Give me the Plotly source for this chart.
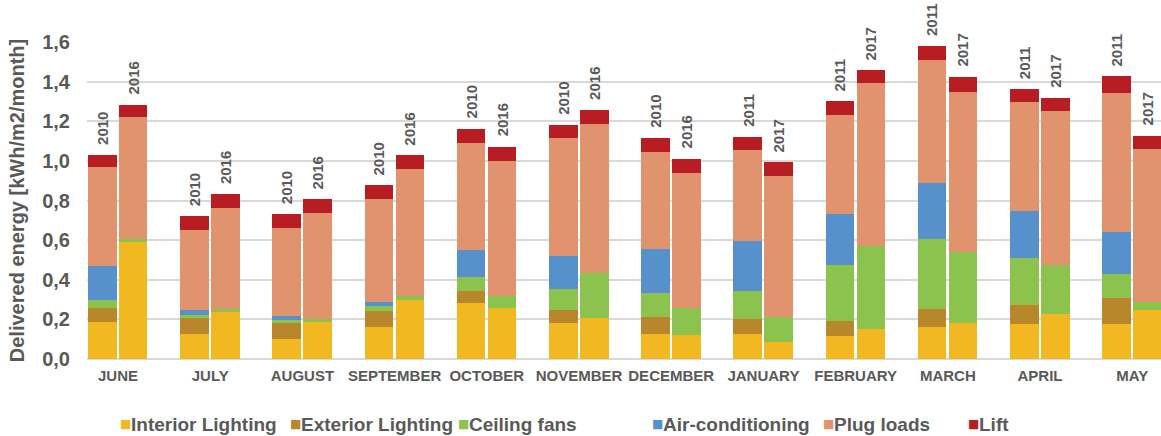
import plotly.graph_objects as go

# Monthly delivered energy by end use [kWh/m2/month], two monitoring years per month
months = ["JUNE", "JULY", "AUGUST", "SEPTEMBER", "OCTOBER", "NOVEMBER",
          "DECEMBER", "JANUARY", "FEBRUARY", "MARCH", "APRIL", "MAY"]
years_a = ["2010", "2010", "2010", "2010", "2010", "2010",
           "2010", "2011", "2011", "2011", "2011", "2011"]
years_b = ["2016", "2016", "2016", "2016", "2016", "2016",
           "2016", "2017", "2017", "2017", "2017", "2017"]

# First year of each pair
interior_a = [0.185, 0.126, 0.099, 0.160, 0.283, 0.183, 0.124, 0.124, 0.114, 0.160, 0.175, 0.178]
exterior_a = [0.072, 0.081, 0.083, 0.080, 0.062, 0.066, 0.090, 0.078, 0.078, 0.094, 0.099, 0.128]
fans_a     = [0.042, 0.017, 0.013, 0.029, 0.069, 0.104, 0.119, 0.143, 0.284, 0.351, 0.234, 0.125]
aircon_a   = [0.172, 0.023, 0.020, 0.020, 0.136, 0.168, 0.222, 0.252, 0.257, 0.285, 0.237, 0.211]
plug_a     = [0.496, 0.406, 0.448, 0.520, 0.541, 0.592, 0.488, 0.456, 0.498, 0.619, 0.550, 0.702]
lift_a     = [0.062, 0.068, 0.069, 0.069, 0.071, 0.068, 0.074, 0.070, 0.071, 0.069, 0.066, 0.082]

# Second year of each pair
interior_b = [0.590, 0.237, 0.188, 0.296, 0.256, 0.207, 0.123, 0.084, 0.153, 0.183, 0.225, 0.249]
exterior_b = [0.000, 0.000, 0.000, 0.000, 0.000, 0.000, 0.000, 0.000, 0.000, 0.000, 0.000, 0.000]
fans_b     = [0.015, 0.017, 0.014, 0.024, 0.064, 0.227, 0.133, 0.126, 0.417, 0.355, 0.251, 0.039]
aircon_b   = [0.000, 0.000, 0.000, 0.000, 0.000, 0.000, 0.000, 0.000, 0.000, 0.000, 0.000, 0.000]
plug_b     = [0.614, 0.508, 0.535, 0.640, 0.681, 0.752, 0.681, 0.712, 0.824, 0.812, 0.774, 0.772]
lift_b     = [0.064, 0.070, 0.069, 0.068, 0.070, 0.070, 0.075, 0.070, 0.064, 0.073, 0.067, 0.068]

series = [
    ("Interior Lighting", "#F2B822", interior_a, interior_b),
    ("Exterior Lighting", "#B8872C", exterior_a, exterior_b),
    ("Ceiling fans", "#8CC34F", fans_a, fans_b),
    ("Air-conditioning", "#5691CB", aircon_a, aircon_b),
    ("Plug loads", "#E0936C", plug_a, plug_b),
    ("Lift", "#B81D23", lift_a, lift_b),
]

idx = list(range(len(months)))
OFF_A, OFF_B, BAR_W = -0.17, 0.165, 0.31
x_a = [i + OFF_A for i in idx]
x_b = [i + OFF_B for i in idx]

GREY = "#595959"
FONT = "Liberation Sans, Arial, sans-serif"
W, H = 1161, 436
ML, MR, MT, MB = 87, 0, 42, 77
PW, PH = W - ML - MR, H - MT - MB

fig = go.Figure()
for name, color, va, vb in series:
    fig.add_trace(go.Bar(x=x_a, y=va, width=BAR_W, name=name, legendgroup=name,
                         showlegend=False, marker=dict(color=color, line=dict(width=0))))
    fig.add_trace(go.Bar(x=x_b, y=vb, width=BAR_W, name=name, legendgroup=name,
                         showlegend=False, marker=dict(color=color, line=dict(width=0))))

# Year labels above each stacked bar
tot_a = [sum(s[2][i] for s in series) for i in idx]
tot_b = [sum(s[3][i] for s in series) for i in idx]
for xs, tots, yrs in ((x_a, tot_a, years_a), (x_b, tot_b, years_b)):
    for x, t, yr in zip(xs, tots, yrs):
        fig.add_annotation(x=x, y=t, text="<b>%s</b>" % yr, textangle=-90,
                           showarrow=False, xanchor="center", yanchor="bottom",
                           yshift=8, font=dict(family=FONT, size=15, color=GREY))

# Legend row below the month names: colour square, then the series name
legend_square_px = [120, 290, 458, 652, 823, 968]
legend_y = (MT + PH - 424) / PH
for (name, color, _, _), px in zip(series, legend_square_px):
    fig.add_annotation(xref="paper", yref="paper", x=(px - 2 - ML) / PW, y=legend_y,
                       xanchor="left", yanchor="middle", showarrow=False,
                       text="■", font=dict(family="DejaVu Sans", size=12, color=color))
    fig.add_annotation(xref="paper", yref="paper", x=(px + 9 - ML) / PW, y=legend_y,
                       xanchor="left", yanchor="middle", showarrow=False,
                       text="<b>%s</b>" % name,
                       font=dict(family=FONT, size=19, color=GREY))

fig.update_layout(
    width=W, height=H,
    barmode="stack",
    bargap=0,
    separators=",.",
    plot_bgcolor="white", paper_bgcolor="white",
    margin=dict(l=ML, r=MR, t=MT, b=MB, autoexpand=False),
    font=dict(family=FONT, color=GREY),
    showlegend=False,
)
fig.update_xaxes(
    range=[-0.336, 11.312],
    tickmode="array", tickvals=idx, ticktext=["<b>%s</b>" % m for m in months],
    tickfont=dict(family=FONT, size=15, color=GREY),
    tickangle=0, automargin=False,
    ticklabelstandoff=6,
    showgrid=False, zeroline=False, showline=False, ticks="",
)
fig.update_yaxes(
    range=[0, 1.6], dtick=0.2, tickformat=".1f",
    tickprefix="<b>", ticksuffix="</b>",
    showgrid=True, gridcolor="#D9D9D9", gridwidth=2,
    zeroline=True, zerolinecolor="#D9D9D9", zerolinewidth=2,
    tickfont=dict(family=FONT, size=20, color=GREY),
    ticklabelstandoff=16, automargin=False,
    title=dict(text="<b>Delivered energy [kWh/m2/month]</b>", standoff=12,
               font=dict(family=FONT, size=20, color=GREY)),
)

fig.write_html("out.html")
